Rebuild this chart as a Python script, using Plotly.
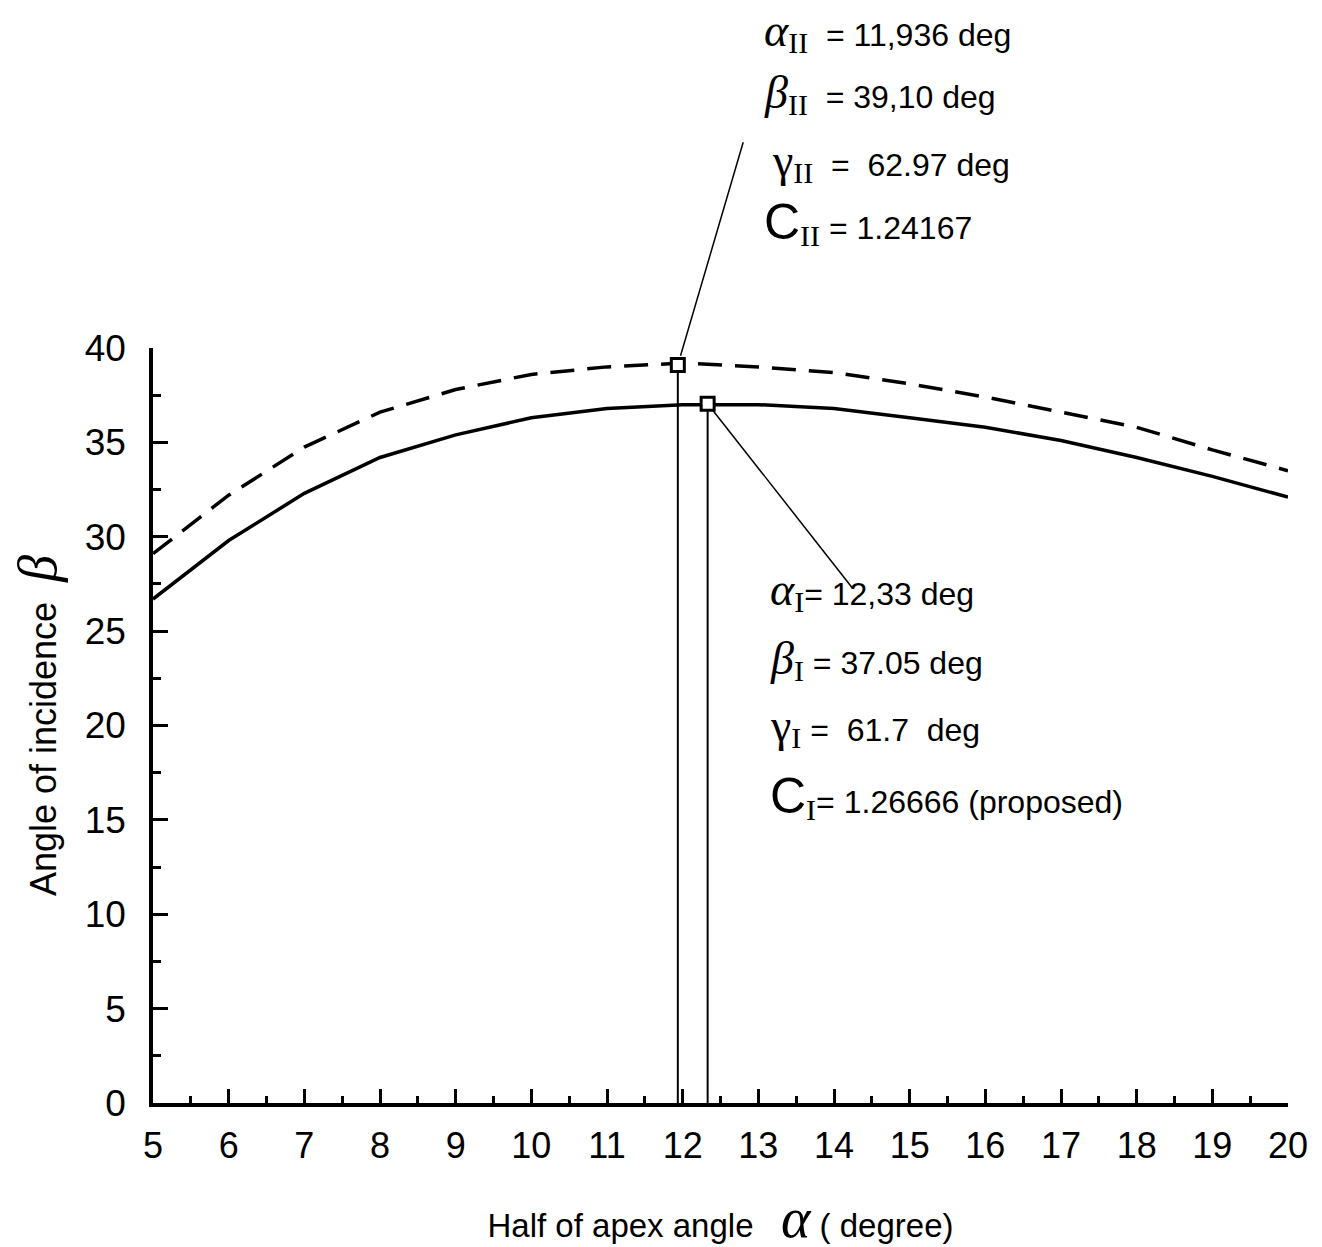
import plotly.graph_objects as go

# ---- data ----
alpha = [5, 6, 7, 8, 9, 10, 11, 12, 13, 14, 15, 16, 17, 18, 19, 20]
beta_I = [26.7, 29.8, 32.3, 34.2, 35.4, 36.3, 36.8, 37.0, 37.0, 36.8, 36.3, 35.8, 35.1, 34.2, 33.2, 32.1]
beta_II = [29.1, 32.2, 34.75, 36.6, 37.8, 38.6, 39.0, 39.2, 39.0, 38.7, 38.1, 37.4, 36.6, 35.8, 34.6, 33.5]

opt_alpha = [11.936, 12.33]   # II, I
opt_beta = [39.10, 37.05]

x_ticks = list(range(5, 21))
y_ticks = [0, 5, 10, 15, 20, 25, 30, 35, 40]

FONT = "Liberation Sans"
SERIF = "Liberation Serif"

fig = go.Figure()

fig.add_trace(go.Scatter(x=alpha, y=beta_II, mode="lines",
                         line=dict(color="black", width=3.5, dash="24px,13px"),
                         showlegend=False))
fig.add_trace(go.Scatter(x=alpha, y=beta_I, mode="lines",
                         line=dict(color="black", width=3.5),
                         showlegend=False))

# vertical drop lines from optimum points
for a, b in zip(opt_alpha, opt_beta):
    fig.add_shape(type="line", x0=a, x1=a, y0=0, y1=b, xref="x", yref="y",
                  line=dict(color="black", width=2), layer="below")

# leader line for point I
fig.add_shape(type="line", x0=opt_alpha[1], y0=opt_beta[1], x1=14.24, y1=27.3,
              xref="x", yref="y", line=dict(color="black", width=1.5), layer="below")

fig.add_trace(go.Scatter(x=opt_alpha, y=opt_beta, mode="markers",
                         marker=dict(symbol="square", size=13, color="white",
                                     line=dict(color="black", width=3)),
                         cliponaxis=False, showlegend=False))

# leader line for point II (extends above plot area)
fig.add_annotation(x=12.8, y=50.9, ax=opt_alpha[0], ay=opt_beta[0],
                   xref="x", yref="y", axref="x", ayref="y",
                   text="", showarrow=True, arrowhead=0, arrowwidth=1.5,
                   arrowcolor="black", standoff=0, startstandoff=8)


def sym(ch, size, italic=True, family=SERIF):
    st = "italic" if italic else "normal"
    return f"<span style='font-family:{family};font-style:{st};font-size:{size}px'>{ch}</span>"


def sub(t, size=30):
    return f"<sub><span style='font-family:{SERIF};font-size:{size}px'>{t}</span></sub>"


top_lines = [
    (sym("α", 46) + sub("II") + "  = 11,936 deg", 1.419),
    (sym("β", 46) + sub("II") + "  = 39,10 deg", 1.3364),
    (" " + sym("γ", 46, italic=False) + sub("II") + "  =  62.97 deg", 1.2464),
    (sym("C", 50, italic=False, family=FONT) + sub("II") + " = 1.24167", 1.1656),
]
bot_lines = [
    (sym("α", 46) + sub("I") + "= 12,33 deg", 27.1),
    (sym("β", 46) + sub("I") + " = 37.05 deg", 23.47),
    (sym("γ", 46, italic=False) + sub("I") + " =  61.7  deg", 19.92),
    (sym("C", 50, italic=False, family=FONT) + sub("I") + "= 1.26666 (proposed)", 16.21),
]
for txt, yv in top_lines:
    fig.add_annotation(x=0.5366, y=yv, xref="paper", yref="paper", text=txt,
                       showarrow=False, xanchor="left", yanchor="middle",
                       font=dict(family=FONT, size=32, color="black"))
for txt, yv in bot_lines:
    fig.add_annotation(x=0.5419, y=yv, xref="paper", yref="y", text=txt,
                       showarrow=False, xanchor="left", yanchor="middle",
                       font=dict(family=FONT, size=32, color="black"))

fig.update_xaxes(range=[5, 20], tickvals=x_ticks, ticktext=[str(v) for v in x_ticks],
                 ticks="inside", ticklen=14, tickwidth=3, tickcolor="black",
                 minor=dict(ticks="inside", ticklen=7, tickwidth=3, tickcolor="black",
                            tick0=5.5, dtick=1),
                 showline=True, linewidth=3.5, linecolor="black",
                 showgrid=False, zeroline=False,
                 tickfont=dict(family=FONT, size=36, color="black"),
                 ticklabelstandoff=8,
                 title=dict(text="Half of apex angle&nbsp;&nbsp;&nbsp;" + sym("α", 56) + " ( degree)",
                            font=dict(family=FONT, size=33, color="black"), standoff=50))
fig.update_yaxes(range=[0, 40], tickvals=y_ticks, ticktext=[str(v) for v in y_ticks],
                 ticks="inside", ticklen=15, tickwidth=3, tickcolor="black",
                 minor=dict(ticks="inside", ticklen=8, tickwidth=3, tickcolor="black",
                            tick0=2.5, dtick=5),
                 showline=True, linewidth=3.5, linecolor="black",
                 showgrid=False, zeroline=False,
                 tickfont=dict(family=FONT, size=37, color="black"),
                 ticklabelstandoff=16,
                 title=dict(text="Angle of incidence  " + sym("β", 54),
                            font=dict(family=FONT, size=36, color="black"), standoff=26))

# page body has an 8px margin, so shift the margins to keep the plot area in place
fig.update_layout(width=1322, height=1247, plot_bgcolor="white", paper_bgcolor="white",
                  margin=dict(l=145, r=42, t=340, b=152, autoexpand=False), showlegend=False)

fig.write_html("out.html")
